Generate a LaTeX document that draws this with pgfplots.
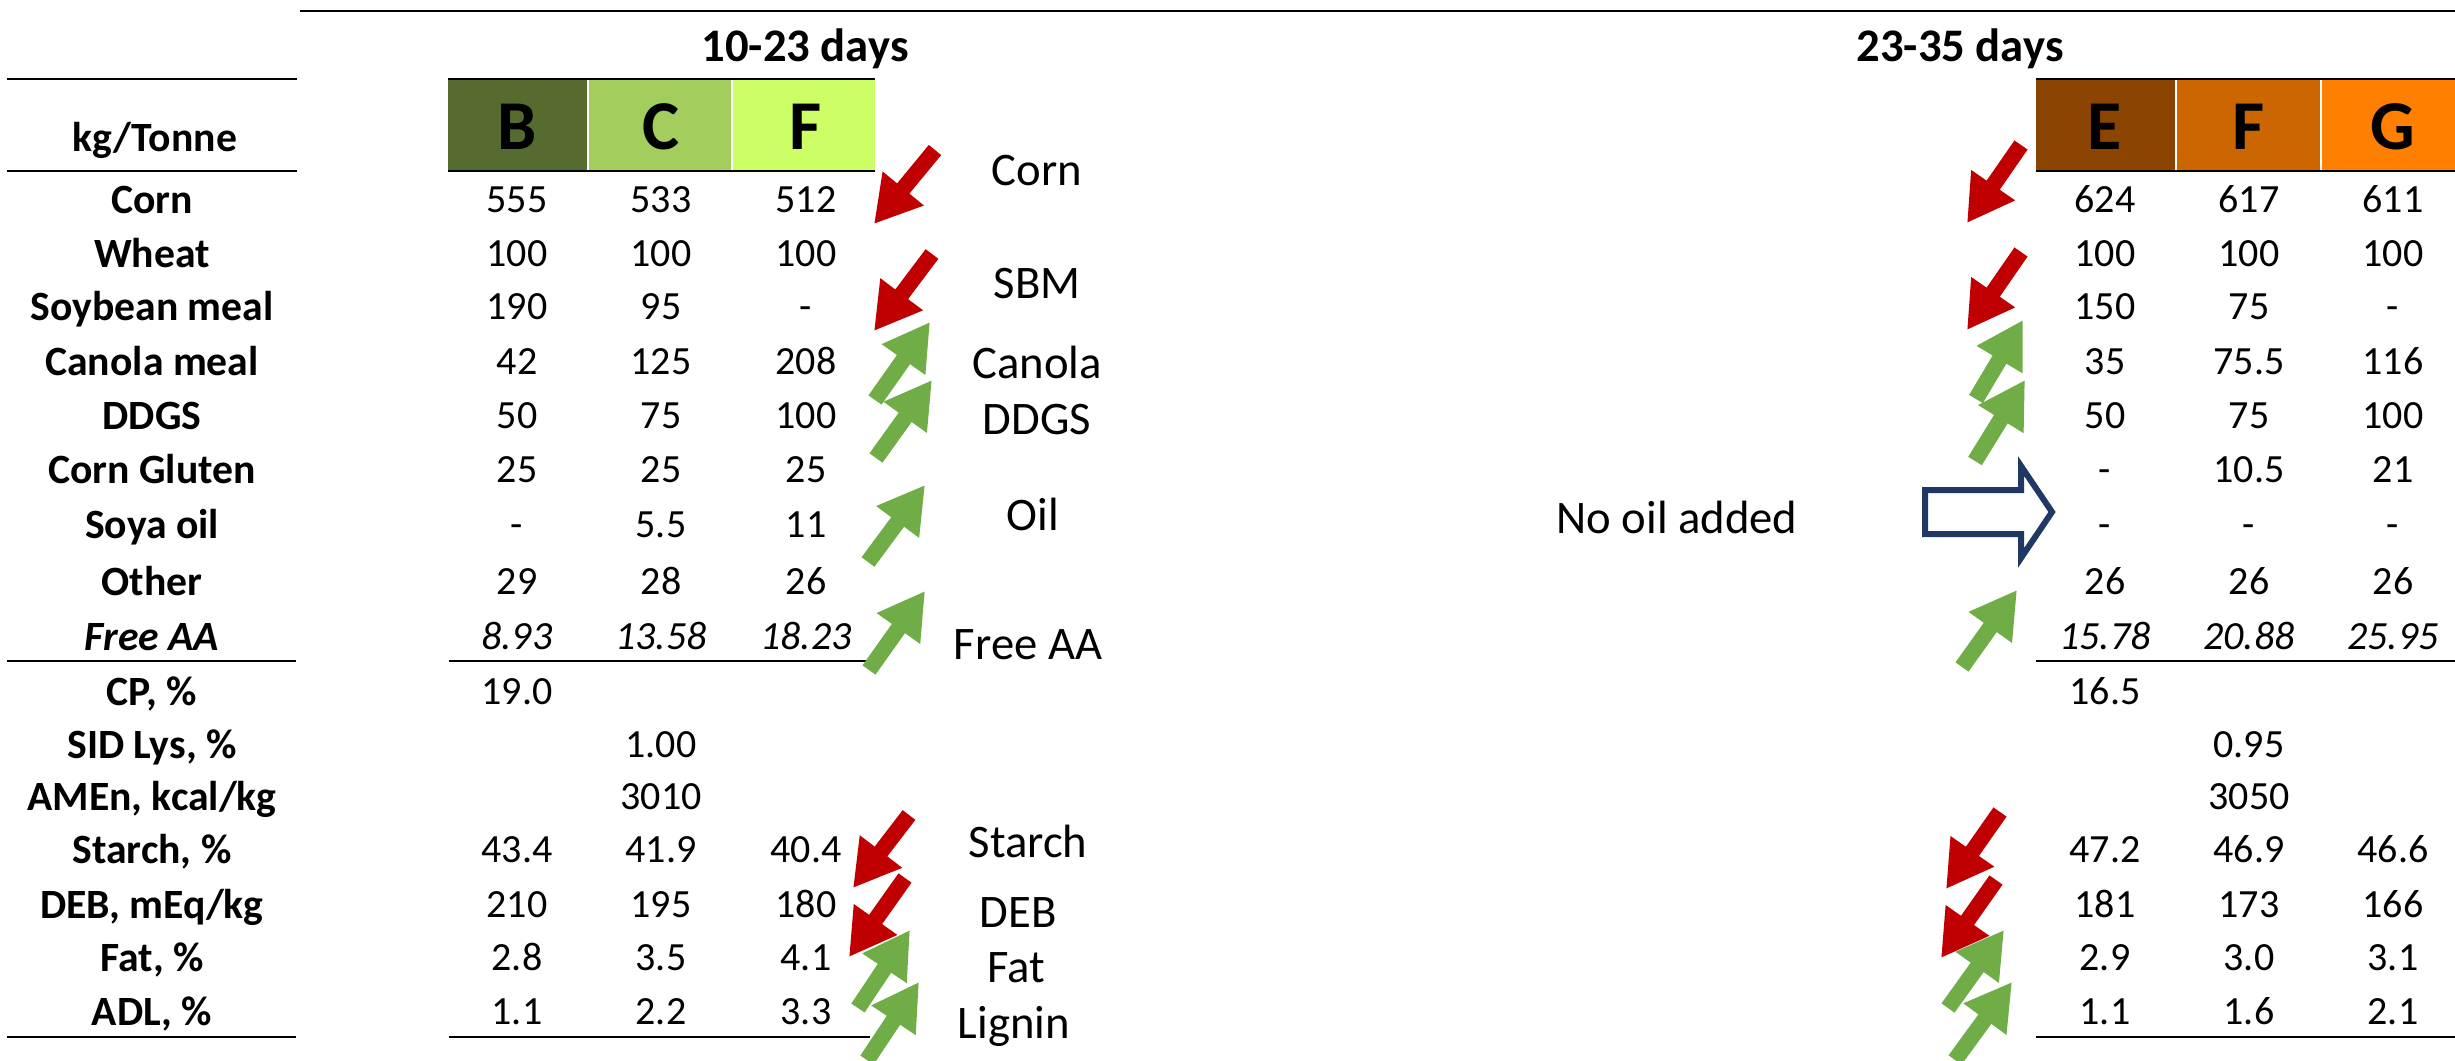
\documentclass[border=0pt]{standalone}
\usepackage{fontspec}
\setmainfont{Carlito}
\usepackage{pgfplots}
\pgfplotsset{compat=1.18}
\usepackage{pgfplotstable}
\usetikzlibrary{arrows.meta}
\definecolor{arrred}{HTML}{C00000}
\definecolor{arrgreen}{HTML}{70AD47}
\definecolor{navy}{HTML}{1F3864}
\definecolor{colB}{HTML}{556B2F}
\definecolor{colC}{HTML}{A3CD5D}
\definecolor{colF}{HTML}{CCFF66}
\definecolor{colE}{HTML}{8B4500}
\definecolor{colFF}{HTML}{CC6600}
\definecolor{colG}{HTML}{FF8000}

% cell values: x (column centre), y (row centre), printed value
\pgfplotstableread[col sep=semicolon]{
x;y;label
517;200;555
661;200;533
806;200;512
517;254;100
661;254;100
806;254;100
517;307;190
661;307;95
806;307;-
517;362;42
661;362;125
806;362;208
517;416;50
661;416;75
806;416;100
517;470;25
661;470;25
806;470;25
517;525;-
661;525;5.5
806;525;11
517;582;29
661;582;28
806;582;26
517;692;19.0
661;745;1.00
661;797;3010
517;850;43.4
661;850;41.9
806;850;40.4
517;905;210
661;905;195
806;905;180
517;958;2.8
661;958;3.5
806;958;4.1
517;1012;1.1
661;1012;2.2
806;1012;3.3
2105;200;624
2249;200;617
2393;200;611
2105;254;100
2249;254;100
2393;254;100
2105;307;150
2249;307;75
2393;307;-
2105;362;35
2249;362;75.5
2393;362;116
2105;416;50
2249;416;75
2393;416;100
2105;470;-
2249;470;10.5
2393;470;21
2105;525;-
2249;525;-
2393;525;-
2105;582;26
2249;582;26
2393;582;26
2105;692;16.5
2249;745;0.95
2249;797;3050
2105;850;47.2
2249;850;46.9
2393;850;46.6
2105;905;181
2249;905;173
2393;905;166
2105;958;2.9
2249;958;3.0
2393;958;3.1
2105;1012;1.1
2249;1012;1.6
2393;1012;2.1
}\valtab

\pgfplotstableread[col sep=semicolon]{
x;y;label
517;637;8.93
661;637;13.58
806;637;18.23
2105;637;15.78
2249;637;20.88
2393;637;25.95
}\italtab

\tikzset{
  valnode/.style={font=\fontsize{12}{14}\selectfont, anchor=center, inner sep=0pt, text height=7.7pt, text depth=0pt},
  italnode/.style={font=\fontsize{12}{14}\selectfont\itshape, anchor=center, inner sep=0pt, text height=7.7pt, text depth=0pt},
  lab/.style={font=\fontsize{12.5}{15}\selectfont\bfseries, anchor=center, inner sep=0pt, text height=8pt, text depth=0pt},
  head/.style={font=\fontsize{14}{16}\selectfont\bfseries, anchor=center, inner sep=0pt, text height=9pt, text depth=0pt},
  ann/.style={font=\fontsize{14}{16}\selectfont, anchor=center, inner sep=0pt, text height=9pt, text depth=0pt},
  big/.style={font=\fontsize{21}{24}\selectfont\bfseries, anchor=center, inner sep=0pt, text height=13.5pt, text depth=0pt},
  blk/.style={line width=4.8pt, -{Triangle[length=13.8pt,width=15pt]}},
  rule/.style={line width=0.8pt, black},
}

\pgfplotsset{
  valplot/.style={scatter, only marks, mark=*, mark size=0pt, draw=none, fill=none,
    point meta=explicit symbolic,
    scatter/@pre marker code/.code={\node[valnode] at (0,0) {\pgfplotspointmeta};},
    scatter/@post marker code/.code={}},
  italplot/.style={scatter, only marks, mark=*, mark size=0pt, draw=none, fill=none,
    point meta=explicit symbolic,
    scatter/@pre marker code/.code={\node[italnode] at (0,0) {\pgfplotspointmeta};},
    scatter/@post marker code/.code={}},
}

\begin{document}
\begin{tikzpicture}
\begin{axis}[name=ax,
  scale only axis, width=736.5pt, height=318.3pt,
  xmin=0, xmax=2455, ymin=0, ymax=1061, y dir=reverse,
  hide axis, clip=false]
\fill[white] (axis cs:0,0) rectangle (axis cs:2455,1061);

% header colour boxes
\fill[colB] (axis cs:448,79) rectangle (axis cs:588,171);
\fill[colC] (axis cs:588,79) rectangle (axis cs:732,171);
\fill[colF] (axis cs:732,79) rectangle (axis cs:875,171);
\fill[colE] (axis cs:2036,79) rectangle (axis cs:2176,171);
\fill[colFF] (axis cs:2176,79) rectangle (axis cs:2321,171);
\fill[colG] (axis cs:2321,79) rectangle (axis cs:2455,171);
\draw[white, line width=0.7pt] (axis cs:588,79) -- (axis cs:588,171);
\draw[white, line width=0.7pt] (axis cs:732,79) -- (axis cs:732,171);
\draw[white, line width=0.7pt] (axis cs:2176,79) -- (axis cs:2176,171);
\draw[white, line width=0.7pt] (axis cs:2321,79) -- (axis cs:2321,171);

% rules
\draw[rule] (axis cs:300,11) -- (axis cs:2455,11);
\draw[rule] (axis cs:7,79) -- (axis cs:297,79);
\draw[rule] (axis cs:7,171) -- (axis cs:297,171);
\draw[rule] (axis cs:7,661) -- (axis cs:296,661);
\draw[rule] (axis cs:7,1037) -- (axis cs:296,1037);
\draw[rule] (axis cs:448,79) -- (axis cs:875,79);
\draw[rule] (axis cs:448,171) -- (axis cs:875,171);
\draw[rule] (axis cs:449,661) -- (axis cs:866,661);
\draw[rule] (axis cs:449,1037) -- (axis cs:870,1037);
\draw[rule] (axis cs:2036,79) -- (axis cs:2455,79);
\draw[rule] (axis cs:2036,171) -- (axis cs:2455,171);
\draw[rule] (axis cs:2036,661) -- (axis cs:2455,661);
\draw[rule] (axis cs:2036,1037) -- (axis cs:2455,1037);

% headings
\node[head] at (axis cs:805,47) {10-23 days};
\node[head] at (axis cs:1960,47) {23-35 days};
\node[lab] at (axis cs:155,138) {kg/Tonne};
\node[big] at (axis cs:517,127) {B};
\node[big] at (axis cs:661,127) {C};
\node[big] at (axis cs:806,127) {F};
\node[big] at (axis cs:2105,127) {E};
\node[big] at (axis cs:2249,127) {F};
\node[big] at (axis cs:2393,127) {G};

% row labels
\node[lab] at (axis cs:152,200) {Corn};
\node[lab] at (axis cs:152,254) {Wheat};
\node[lab] at (axis cs:152,307) {Soybean meal};
\node[lab] at (axis cs:152,362) {Canola meal};
\node[lab] at (axis cs:152,416) {DDGS};
\node[lab] at (axis cs:152,470) {Corn Gluten};
\node[lab] at (axis cs:152,525) {Soya oil};
\node[lab] at (axis cs:152,582) {Other};
\node[lab, font=\fontsize{12.5}{15}\selectfont\bfseries\itshape] at (axis cs:152,637) {Free AA};
\node[lab] at (axis cs:152,692) {CP, \%};
\node[lab] at (axis cs:152,745) {SID Lys, \%};
\node[lab] at (axis cs:152,797) {AMEn, kcal/kg};
\node[lab] at (axis cs:152,850) {Starch, \%};
\node[lab] at (axis cs:152,905) {DEB, mEq/kg};
\node[lab] at (axis cs:152,958) {Fat, \%};
\node[lab] at (axis cs:152,1012) {ADL, \%};

% cell values
\addplot[valplot] table[x=x, y=y, meta=label] {\valtab};
\addplot[italplot] table[x=x, y=y, meta=label] {\italtab};

% annotations
\node[ann] at (axis cs:1037,171) {Corn};
\node[ann] at (axis cs:1037,284) {SBM};
\node[ann] at (axis cs:1037,363) {Canola};
\node[ann] at (axis cs:1037,419) {DDGS};
\node[ann] at (axis cs:1033,515) {Oil};
\node[ann] at (axis cs:1028,644) {Free AA};
\node[ann] at (axis cs:1028,842) {Starch};
\node[ann] at (axis cs:1018,912) {DEB};
\node[ann] at (axis cs:1016,967) {Fat};
\node[ann] at (axis cs:1014,1023) {Lignin};
\node[ann] at (axis cs:1677,518) {No oil added};

% left arrows
\draw[blk, arrred] (axis cs:935,150) -- (axis cs:874,224);
\draw[blk, arrred] (axis cs:932,254) -- (axis cs:874,331);
\draw[blk, arrgreen] (axis cs:875,400) -- (axis cs:930,322);
\draw[blk, arrgreen] (axis cs:876,458) -- (axis cs:932,380);
\draw[blk, arrgreen] (axis cs:868,562) -- (axis cs:925,485);
\draw[blk, arrgreen] (axis cs:869,670) -- (axis cs:925,591);
\draw[blk, arrred] (axis cs:909,815) -- (axis cs:853,888);
\draw[blk, arrred] (axis cs:905,878) -- (axis cs:849,957);
\draw[blk, arrgreen] (axis cs:858,1008) -- (axis cs:910,930);
\draw[blk, arrgreen] (axis cs:867,1060) -- (axis cs:919,982);

% right arrows
\draw[blk, arrred] (axis cs:2021,145) -- (axis cs:1967,223);
\draw[blk, arrred] (axis cs:2021,252) -- (axis cs:1967,330);
\draw[blk, arrgreen] (axis cs:1976,399) -- (axis cs:2023,320);
\draw[blk, arrgreen] (axis cs:1975,461) -- (axis cs:2025,380);
\draw[blk, arrgreen] (axis cs:1962,667) -- (axis cs:2017,590);
\draw[blk, arrred] (axis cs:2000,812) -- (axis cs:1946,889);
\draw[blk, arrred] (axis cs:1996,880) -- (axis cs:1941,958);
\draw[blk, arrgreen] (axis cs:1948,1008) -- (axis cs:2004,930);
\draw[blk, arrgreen] (axis cs:1955,1060) -- (axis cs:2012,982);

% hollow arrow
\draw[navy, line width=1.8pt, fill=white, line join=miter]
  (axis cs:1925,490) -- (axis cs:2021,490) -- (axis cs:2021,466) -- (axis cs:2052,512)
  -- (axis cs:2021,558) -- (axis cs:2021,534) -- (axis cs:1925,534) -- cycle;
\end{axis}
\pgfresetboundingbox
\path[use as bounding box] (ax.south west) rectangle (ax.north east);
\end{tikzpicture}
\end{document}
